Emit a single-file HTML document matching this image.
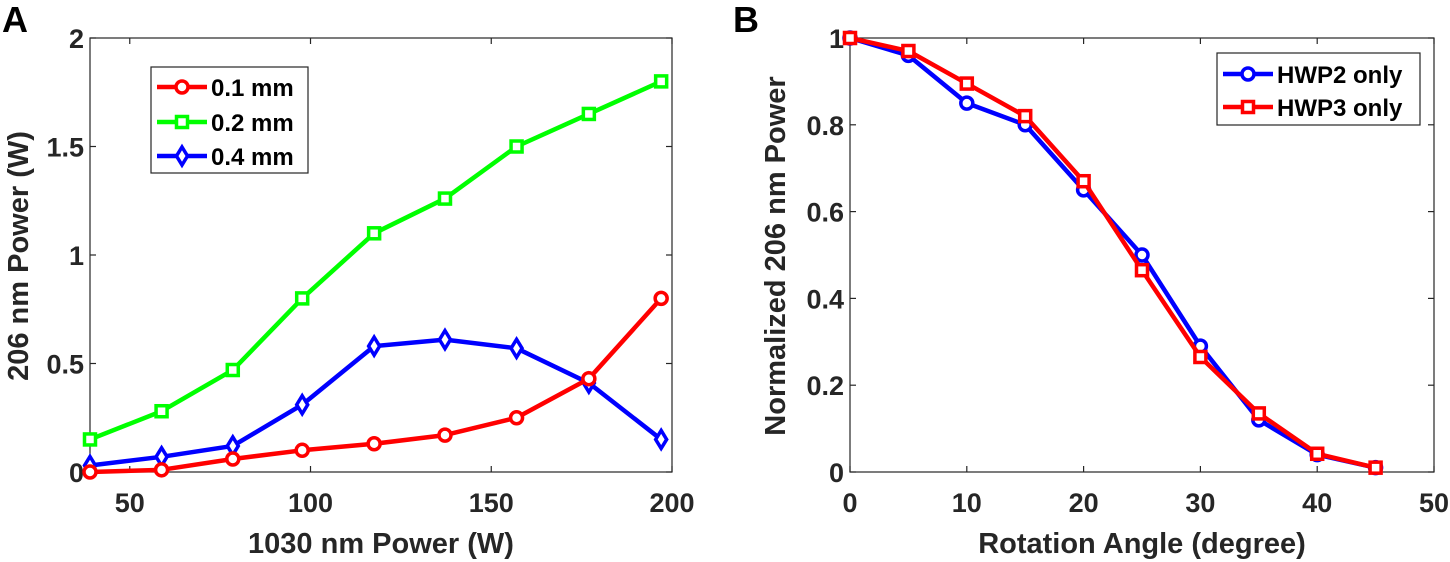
<!DOCTYPE html>
<html><head><meta charset="utf-8"><style>
body{margin:0;background:#fff;}
svg{display:block;font-family:"Liberation Sans",Arial,sans-serif;font-weight:bold;}
</style></head><body>
<svg id="s" width="1450" height="562" viewBox="0 0 1450 562"></svg>
<script>
// Panel A data
const xA=[39,58.8,78.5,97.7,117.6,137.2,157,177,197];
const yA01=[0.0,0.01,0.06,0.10,0.13,0.17,0.25,0.43,0.80];
const yA02=[0.15,0.28,0.47,0.80,1.10,1.26,1.50,1.65,1.80];
const yA04=[0.03,0.07,0.12,0.31,0.58,0.61,0.57,0.41,0.15];
const xTicksA=[50,100,150,200];
const yTicksA=[0,0.5,1,1.5,2];
const yTickLabelsA=["0","0.5","1","1.5","2"];
// Panel B data
const xB=[0,5,10,15,20,25,30,35,40,45];
const yHWP2=[1.0,0.96,0.85,0.80,0.65,0.50,0.29,0.12,0.04,0.01];
const yHWP3=[1.0,0.97,0.895,0.82,0.67,0.465,0.265,0.135,0.042,0.01];
const xTicksB=[0,10,20,30,40,50];
const yTicksB=[0,0.2,0.4,0.6,0.8,1];
const yTickLabelsB=["0","0.2","0.4","0.6","0.8","1"];

const NS="http://www.w3.org/2000/svg";
const svg=document.getElementById('s');
function mk(tag,attrs,parent){const e=document.createElementNS(NS,tag);for(const k in attrs)e.setAttribute(k,attrs[k]);(parent||svg).appendChild(e);return e;}
function txt(s,x,y,size,anchor,parent,rot){const t=mk('text',{x:x,y:y,'font-size':size,'text-anchor':anchor||'middle',fill:'#262626'},parent);if(rot)t.setAttribute('transform','rotate(-90 '+x+' '+y+')');t.textContent=s;return t;}

function marker(g,type,x,y,color){
  let m;
  if(type==='o'){m=mk('circle',{cx:x,cy:y,r:6,fill:'#fff',stroke:color,'stroke-width':3.5},g);}
  else if(type==='s'){m=mk('rect',{x:x-5.5,y:y-5.5,width:11,height:11,fill:'#fff',stroke:color,'stroke-width':3.5},g);}
  else {m=mk('polygon',{points:(x)+','+(y-9)+' '+(x+5.5)+','+y+' '+x+','+(y+9)+' '+(x-5.5)+','+y,fill:'#fff',stroke:color,'stroke-width':3.5},g);}
  
  
}

function axes(cfg){
  const {L,R,T,B,xmin,xmax,ymin,ymax}=cfg;
  const sx=v=>L+(v-xmin)/(xmax-xmin)*(R-L);
  const sy=v=>B-(v-ymin)/(ymax-ymin)*(B-T);
  const g=mk('g',{});
  
  
  const box=mk('rect',{x:L,y:T,width:R-L,height:B-T,fill:'#fff',stroke:'#262626','stroke-width':1.2},g);
  
  
  cfg.xt.forEach(v=>{const x=sx(v);
    mk('line',{x1:x,y1:B,x2:x,y2:B-6,stroke:'#262626','stroke-width':1.2},g);
    mk('line',{x1:x,y1:T,x2:x,y2:T+6,stroke:'#262626','stroke-width':1.2},g);
    const t=txt(String(v),x,B+40,27,'middle',g);
    
    
  });
  cfg.yt.forEach((v,i)=>{const y=sy(v);
    mk('line',{x1:L,y1:y,x2:L+6,y2:y,stroke:'#262626','stroke-width':1.2},g);
    mk('line',{x1:R,y1:y,x2:R-6,y2:y,stroke:'#262626','stroke-width':1.2},g);
    const t=txt(cfg.ytl[i],L-6,y+10,27,'end',g);
    
    
  });
  cfg.series.forEach(s=>{
    const sg=mk('g',{},g);
    
    
    const pts=s.x.map((xv,i)=>sx(xv)+','+sy(s.y[i])).join(' ');
    mk('polyline',{points:pts,fill:'none',stroke:s.c,'stroke-width':4.5,'stroke-linejoin':'round'},sg);
    s.x.forEach((xv,i)=>marker(sg,s.m,sx(xv),sy(s.y[i]),s.c));
  });
  return g;
}

axes({name:'chart-a',L:90,R:672,T:38,B:472,xmin:39,xmax:200,ymin:0,ymax:2,xt:xTicksA,yt:yTicksA,ytl:yTickLabelsA,
  series:[{name:'series-0-4mm',x:xA,y:yA04,c:'#0000ff',m:'d'},{name:'series-0-2mm',x:xA,y:yA02,c:'#00ff00',m:'s'},{name:'series-0-1mm',x:xA,y:yA01,c:'#ff0000',m:'o'}]});
axes({name:'chart-b',L:850,R:1434,T:38,B:472,xmin:0,xmax:50,ymin:0,ymax:1,xt:xTicksB,yt:yTicksB,ytl:yTickLabelsB,
  series:[{name:'series-hwp2',x:xB,y:yHWP2,c:'#0000ff',m:'o'},{name:'series-hwp3',x:xB,y:yHWP3,c:'#ff0000',m:'s'}]});

// titles
let t;
t=txt('1030 nm Power (W)',381,553,29,'middle');
t=txt('206 nm Power (W)',28,256,29,'middle',null,true);
t=txt('Rotation Angle (degree)',1142,553,29,'middle');
t=txt('Normalized 206 nm Power',785,256,29,'middle',null,true);
t=txt('A',2,32,36,'start');t.setAttribute('fill','#000');
t=txt('B',733,32,36,'start');t.setAttribute('fill','#000');

// legends
function legend(name,x,y,w,h,entries){
  const g=mk('g',{});
  
  
  mk('rect',{x:x,y:y,width:w,height:h,fill:'#fff',stroke:'#262626','stroke-width':1.2},g);
  entries.forEach(e=>{
    const eg=mk('g',{},g);
    
    
    mk('line',{x1:x+6,y1:e.y,x2:x+56,y2:e.y,stroke:e.c,'stroke-width':4.5},eg);
    marker(eg,e.m,x+31,e.y,e.c);
    txt(e.t,x+60,e.y+9,24,'start',eg).setAttribute('fill','#000');
  });
}
legend('legend-a',151,67,157,106,[{y:87,c:'#ff0000',m:'o',t:'0.1 mm'},{y:122,c:'#00ff00',m:'s',t:'0.2 mm'},{y:156,c:'#0000ff',m:'d',t:'0.4 mm'}]);
legend('legend-b',1217,53,203,72,[{y:74,c:'#0000ff',m:'o',t:'HWP2 only'},{y:107,c:'#ff0000',m:'s',t:'HWP3 only'}]);
</script>
</body></html>
